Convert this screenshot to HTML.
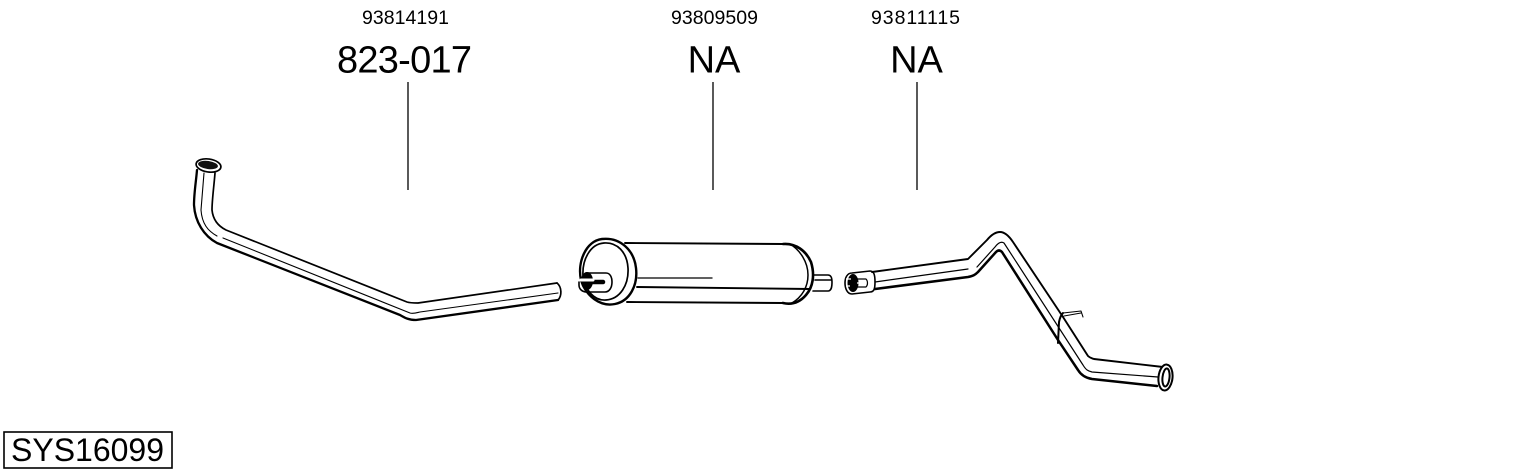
<!DOCTYPE html>
<html>
<head>
<meta charset="utf-8">
<style>
html,body{margin:0;padding:0;background:#fff;width:1530px;height:474px;overflow:hidden}
svg{display:block}
text{font-family:"Liberation Sans",Arial,sans-serif;fill:#000}
.p{fill:none;stroke:#000;stroke-linecap:round;stroke-linejoin:round}
</style>
</head>
<body>
<svg width="1530" height="474" viewBox="0 0 1530 474" xmlns="http://www.w3.org/2000/svg">
<rect width="1530" height="474" fill="#fff"/>
<!-- labels -->
<text x="362" y="24" font-size="19.500" textLength="87" lengthAdjust="spacing">93814191</text>
<text x="337" y="72.500" font-size="38" textLength="135" lengthAdjust="spacing">823-017</text>
<text x="671" y="24" font-size="19.500" textLength="87" lengthAdjust="spacing">93809509</text>
<text x="714" y="72.500" font-size="38" text-anchor="middle">NA</text>
<text x="871" y="24" font-size="19.500" textLength="89" lengthAdjust="spacing">93811115</text>
<text x="916.500" y="72.500" font-size="38" text-anchor="middle">NA</text>
<!-- leaders -->
<path d="M408 82V190M713 82V190M917 82V190" stroke="#000" stroke-width="1.300" fill="none"/>
<!-- title box -->
<rect x="4" y="432" width="168" height="36" fill="#fff" stroke="#000" stroke-width="1.600"/>
<text x="11" y="461" font-size="32">SYS16099</text>

<!-- pipe 1 -->
<path class="p" stroke-width="2.300" d="M197 170C196 182 194 193 194 205C195 222 204 236 217 243L400 315C405 318 409 320 416 320L558 300"/>
<path class="p" stroke-width="1.700" d="M215 173C214 186 212 200 212 210C213 220 218 226 226 230L407 302C410 303 413 303 418 303L557 283"/>
<path class="p" stroke-width="1.100" d="M204 173L201 210C202 224 208 231 217 236M223 238L410 313C413 314 416 313 420 312L558 293"/>
<path class="p" stroke-width="1.700" d="M557 283C562 287 562 296 558 300"/>
<ellipse cx="208.500" cy="165.500" rx="12.500" ry="6.500" fill="#fff" stroke="#000" stroke-width="1.700" transform="rotate(8 208.500 165.500)"/>
<ellipse cx="208" cy="165" rx="10" ry="4" fill="#111" transform="rotate(8 208 165)"/>

<!-- muffler -->
<path class="p" stroke-width="1.900" d="M625 243L783 244M627 302L783 303M637 287L810 289"/>
<path class="p" stroke-width="1.300" d="M638 278H712"/>
<path class="p" stroke-width="2.600" d="M783 244C796 243 806 251 811 262C815 275 813 287 806 295C800 302 792 305 783 303"/>
<path class="p" stroke-width="1.500" d="M790 244C800 250 808 262 808 275C808 287 802 297 792 303"/>
<path class="p" stroke-width="1.600" d="M814 275H828C831 275 832 278 832 282C832 288 831 291 828 291H813M815 280H831"/>
<path class="p" stroke-width="2.400" d="M602 239C620 237 634 250 636 268C638 285 630 301 615 304C600 307 586 296 581 280C577 262 586 241 602 239Z"/>
<path class="p" stroke-width="1.700" d="M604 243C617 242 627 252 628 268C629 285 620 299 606 300C594 301 585 290 583 276C582 260 590 244 604 243Z"/>
<path class="p" stroke-width="1.600" fill="#fff" d="M586 273H606C610 273 612 277 612 282C612 288 609 292 605 292H587C582 292 579 289 579 285V282"/>
<ellipse cx="587" cy="281" rx="6" ry="9" fill="#000"/>
<path d="M590 282H603" stroke="#000" stroke-width="4.500" stroke-linecap="round"/>
<path d="M581 280H593" stroke="#fff" stroke-width="3" stroke-linecap="round"/>

<!-- pipe 3 -->
<path class="p" stroke-width="1.900" d="M872 272L968 259L987 240C992 234 996 232 1000 232C1005 232 1009 236 1013 242L1063 317L1088 356C1090 358 1091 358 1094 359L1163 367"/>
<path class="p" stroke-width="2.500" d="M875 289L968 277C973 276 975 275 978 272L996 252C998 250 1000 250 1002 252L1058 340L1078 370C1081 375 1086 378 1092 379L1157 386"/>
<path class="p" stroke-width="1.200" d="M875 282L968 269M977 267L995 247C998 243 1001 241 1004 243L1083 365C1086 370 1088 371 1092 372L1158 377"/>
<path class="p" stroke-width="1.600" fill="#fff" d="M852 273L870 271C874 271 875 275 875 282C875 289 874 292 870 292L852 294C847 294 845 288 845 283C845 278 847 273 852 273Z"/>
<ellipse cx="853" cy="283" rx="5.500" ry="9" fill="#000"/>
<path d="M846 279H851M846 286H850M857 283H866" stroke="#fff" stroke-width="1.200"/>
<path class="p" stroke-width="1.200" d="M856 279H866C868 281 868 285 866 287H856"/>
<path class="p" stroke-width="2" d="M1058 343L1059 322C1060 317 1061 315 1063 313"/>
<path class="p" stroke-width="1.100" d="M1063 313L1081 311L1083 317M1064 316L1081 313"/>
<ellipse cx="1165.500" cy="377.500" rx="7" ry="13" fill="#fff" stroke="#000" stroke-width="2" transform="rotate(6 1165.500 377.500)"/>
<ellipse cx="1166" cy="377.500" rx="3.500" ry="9" fill="#fff" stroke="#000" stroke-width="2" transform="rotate(6 1166 377.500)"/>
</svg>
</body>
</html>
